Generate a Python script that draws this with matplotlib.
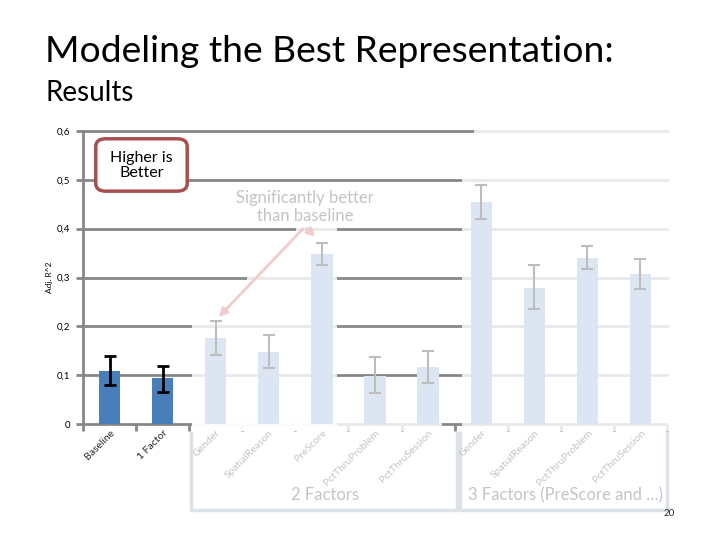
import numpy as np
import matplotlib
matplotlib.use('Agg')
import matplotlib.pyplot as plt
from matplotlib.patches import FancyBboxPatch, Rectangle
from matplotlib.transforms import blended_transform_factory

plt.rcParams['font.family'] = ['Lato', 'DejaVu Sans']

# data
labels = ['Baseline', '1 Factor', 'Gender', 'SpatialReason', 'PreScore',
          'PctThruProblem', 'PctThruSession', 'Gender', 'SpatialReason',
          'PctThruProblem', 'PctThruSession']
adj_r2 = [0.109, 0.094, 0.176, 0.148, 0.348, 0.098, 0.117,
          0.455, 0.279, 0.340, 0.307]
err_lo = [0.080, 0.066, 0.141, 0.115, 0.326, 0.064, 0.084,
          0.420, 0.236, 0.318, 0.277]
err_hi = [0.139, 0.119, 0.211, 0.182, 0.371, 0.137, 0.150,
          0.490, 0.326, 0.365, 0.338]
highlight = [True, True] + [False] * 9
yticks = [0, 0.1, 0.2, 0.3, 0.4, 0.5, 0.6]
ytick_labels = ['0', '0,1', '0,2', '0,3', '0,4', '0,5', '0,6']

dark_bar = '#4a7ebb'
pale_bar = '#dce6f2'
grid_col = '#868686'
pale_txt = '#c4c4c4'

fig = plt.figure(figsize=(7.2, 5.4), dpi=100)
ax = fig.add_axes([0.1153, 0.2148, 0.8111, 0.5426])

x = np.arange(len(labels))
ax.set_xlim(-0.5, len(labels) - 0.5)
ax.set_ylim(0, 0.6)

# gridlines
for yv in yticks[1:]:
    ax.axhline(yv, color=grid_col, lw=2, zorder=1, clip_on=False)

for s in ['top', 'right']:
    ax.spines[s].set_visible(False)
for s in ['left', 'bottom']:
    ax.spines[s].set_color(grid_col)
    ax.spines[s].set_linewidth(2)

ax.set_yticks(yticks)
ax.set_yticklabels(ytick_labels, fontsize=7)
ax.tick_params(axis='y', length=5, width=2, color=grid_col, pad=4)
ax.set_xticks(x)
ax.set_xticklabels(labels, rotation=45, ha='right', rotation_mode='anchor', fontsize=7.5)
ax.set_xticks(np.arange(-0.5, len(labels), 1), minor=True)
ax.tick_params(axis='x', which='major', length=0, pad=3)
ax.tick_params(axis='x', which='minor', length=5, width=2, color=grid_col)
for lab, hl in zip(ax.get_xticklabels(), highlight):
    lab.set_color('#262626' if hl else pale_txt)

ax.set_ylabel('Adj. R^2', fontsize=6, labelpad=3)

# faded overlays (slide build animation)
fades = [(1.55, -0.015, 4.28, 0.22), (2.59, 0.22, 4.28, 0.32),
         (3.51, 0.32, 4.28, 0.42), (1.55, -0.015, 6.26, 0.01),
         (6.64, -0.015, 10.6, 0.55), (6.86, 0.55, 10.6, 0.61)]
for x0, y0, x1, y1 in fades:
    ax.add_patch(Rectangle((x0, y0), x1 - x0, y1 - y0, facecolor='white',
                           edgecolor='none', alpha=0.82, zorder=2.6, clip_on=False))

vals = np.array(adj_r2)
lo = vals - np.array(err_lo)
hi = np.array(err_hi) - vals
for i in range(len(labels)):
    ax.bar(x[i], vals[i], width=0.4, color=dark_bar if highlight[i] else pale_bar, zorder=3)
    ax.errorbar(x[i], vals[i], yerr=[[lo[i]], [hi[i]]], fmt='none',
                ecolor='black' if highlight[i] else '#bdbdbd',
                elinewidth=2 if highlight[i] else 1.5, capsize=4,
                capthick=2 if highlight[i] else 1.5, zorder=4)

# "Higher is Better" callout
box = FancyBboxPatch((0.133, 0.646), 0.127, 0.097, boxstyle='round,pad=0,rounding_size=0.014',
                     transform=fig.transFigure, facecolor='white', edgecolor='#a5504f', lw=2.5)
fig.patches.append(box)
fig.text(0.1965, 0.694, 'Higher is\nBetter', ha='center', va='center', fontsize=11.5,
         linespacing=1.05, color='black')

# significance annotation
ax.text(3.68, 0.445, 'Significantly better\nthan baseline', ha='center', va='center',
        fontsize=12, color=pale_txt, linespacing=1.15, zorder=5)
arrow_col = '#f0cccc'
ax.annotate('', xy=(2.02, err_hi[2] + 0.004), xytext=(3.68, 0.404),
            arrowprops=dict(arrowstyle='-|>', color=arrow_col, lw=2, mutation_scale=12), zorder=5)
ax.annotate('', xy=(3.91, 0.379), xytext=(3.68, 0.404),
            arrowprops=dict(arrowstyle='-|>', color=arrow_col, lw=2, mutation_scale=12), zorder=5)

# group brackets
tr = blended_transform_factory(ax.transData, fig.transFigure)
br_col = '#dde2e8'
y_top, y_bot = 1 - 433 / 540, 1 - 510 / 540
for x0, x1 in [(1.53, 6.54), (6.60, 10.5)]:
    ax.plot([x0, x0, x1, x1], [y_top, y_bot, y_bot, y_top], color=br_col, lw=2.5,
            transform=tr, clip_on=False, zorder=1)
ax.text(4.06, 1 - 495 / 540, '2 Factors', transform=tr, ha='center', va='center',
        fontsize=12, color=pale_txt)
ax.text(8.58, 1 - 495 / 540, '3 Factors (PreScore and …)', transform=tr, ha='center',
        va='center', fontsize=12, color=pale_txt)

# slide title
fig.text(0.0625, 0.885, 'Modeling the Best Representation:', fontsize=26.8, ha='left',
         va='baseline', color='black')
fig.text(0.0625, 0.813, 'Results', fontsize=20, ha='left', va='baseline', color='black')
fig.text(0.922, 0.05, '20', fontsize=7, ha='left', va='center', color='#262626')

fig.savefig('out.png', dpi=100)
